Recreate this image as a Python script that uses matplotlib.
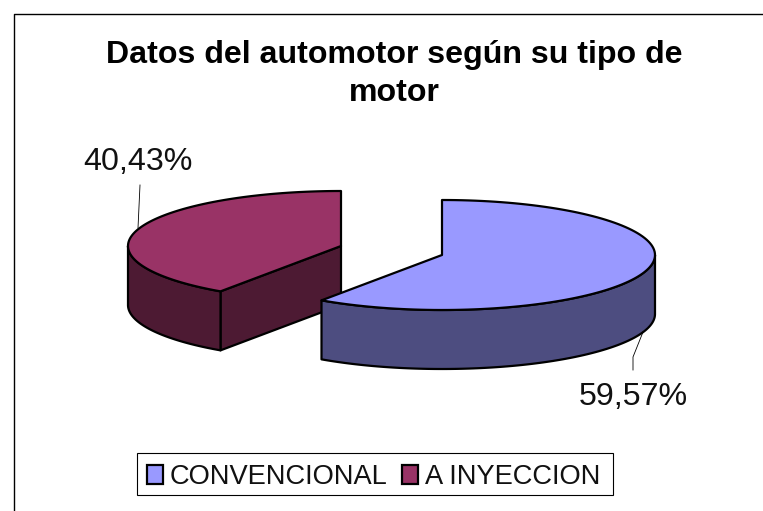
import numpy as np
import matplotlib
matplotlib.use('Agg')
import matplotlib.pyplot as plt
from matplotlib.patches import Polygon, Rectangle

plt.rcParams['font.family'] = ['Liberation Sans', 'DejaVu Sans']

TITLE = 'Datos del automotor según su tipo de\nmotor'
categories = ['CONVENCIONAL', 'A INYECCION']
values = [59.57, 40.43]
top_colors = ['#9999FF', '#993366']
side_colors = ['#4D4D80', '#4D1A33']

# pie geometry in pixels, one centre per slice because they are exploded
centers = [(442, 255), (341, 246)]
RX, RY = 213, 55
DEPTH = 59
W, H = 763, 511
LW = 1.6


def rim(c, a, b):
    t = np.radians(np.linspace(a, b, 120))
    return np.column_stack([c[0] + RX * np.sin(t), c[1] - RY * np.cos(t)])


def side_face(ax, pts, color):
    low = pts[::-1] + [0, DEPTH]
    ax.add_patch(Polygon(np.vstack([pts, low]), closed=True, fc=color, ec='black', lw=LW, joinstyle='round'))


fig = plt.figure(figsize=(W / 100, H / 100), dpi=100)
ax = fig.add_axes([0, 0, 1, 1])
ax.set_xlim(0, W)
ax.set_ylim(H, 0)
ax.axis('off')

# chart border, only top and left are in the picture
ax.plot([14, 14, W], [H, 14, 14], color='black', lw=1.0)

ax.text(394.5, 74, TITLE, ha='center', va='center', fontsize=23.1, fontweight='bold', linespacing=1.32)

# draw back slice first so the blue one sits over it
angles = np.cumsum([0] + values) * 3.6
for i in [1, 0]:
    start, end = angles[i], angles[i + 1]
    c = centers[i]
    if 180 < start < 360:
        side_face(ax, np.array([rim(c, start, start)[0], c]), side_colors[i])
    a, b = max(start, 90), min(end, 270)
    if a < b:
        side_face(ax, rim(c, a, b), side_colors[i])
    top = np.vstack([[c], rim(c, start, end)])
    ax.add_patch(Polygon(top, closed=True, fc=top_colors[i], ec='black', lw=LW, joinstyle='round'))

# percent labels with leader lines
ax.text(138, 162, f'{values[1]:.2f}%'.replace('.', ','), ha='center', va='center', fontsize=23.2, color='#111111')
ax.text(633, 397, f'{values[0]:.2f}%'.replace('.', ','), ha='center', va='center', fontsize=23.2, color='#111111')
ax.plot([138, 140], [228, 185], color='black', lw=0.6)
ax.plot([643, 633, 633], [332, 357, 370], color='black', lw=0.6)

# legend box
ax.add_patch(Rectangle((137, 453), 476, 42, fc='white', ec='black', lw=0.8))
legend_x = [147, 402]
for x, name, col in zip(legend_x, categories, top_colors):
    ax.add_patch(Rectangle((x, 465), 16, 19, fc=col, ec='black', lw=1.6))
    ax.text(x + 23, 477, name, ha='left', va='center', fontsize=19.6, color='#111111')

fig.savefig('out.png', dpi=100)
